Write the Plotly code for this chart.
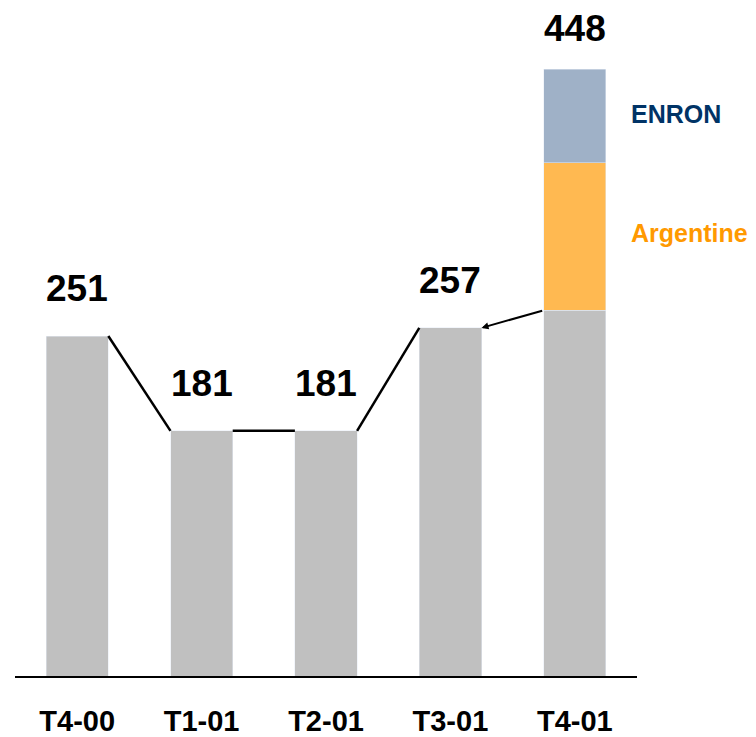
import plotly.graph_objects as go

categories = ["T4-00", "T1-01", "T2-01", "T3-01", "T4-01"]
base_values = [251, 181, 181, 257, 270]
argentine_values = [None, None, None, None, 109]
enron_values = [None, None, None, None, 69]
total_labels = [251, 181, 181, 257, 448]
segment_names = ["Argentine", "ENRON"]

GRAY = "#C0C0C0"
ORANGE = "#FFB951"
BLUEGRAY = "#9FB1C7"
FONT = "Arial, Liberation Sans, sans-serif"

fig = go.Figure()
fig.add_bar(x=categories, y=base_values, marker_color=GRAY, width=0.5, showlegend=False)
fig.add_bar(x=categories, y=argentine_values, marker_color=ORANGE, width=0.5, showlegend=False)
fig.add_bar(x=categories, y=enron_values, marker_color=BLUEGRAY, width=0.5, showlegend=False)

# connector lines between bar tops
n = len(categories)
for i in range(n - 2):
    fig.add_shape(type="line", xref="x", yref="y",
                  x0=i + 0.25, y0=base_values[i], x1=i + 1 - 0.25, y1=base_values[i + 1],
                  line=dict(color="black", width=2.5))
# arrow from last bar base to previous bar
fig.add_annotation(x=n - 2 + 0.25, y=base_values[n - 2], ax=n - 1 - 0.25, ay=base_values[n - 1],
                   xref="x", yref="y", axref="x", ayref="y", text="", showarrow=True,
                   arrowhead=2, arrowsize=0.7, arrowwidth=2, arrowcolor="black")

# total labels
for i, v in enumerate(total_labels):
    fig.add_annotation(x=categories[i], y=v, text=str(v), showarrow=False,
                       yanchor="bottom", yshift=25 if i < n - 1 else 18,
                       font=dict(family=FONT, size=37, color="black", weight="bold"))

# segment labels
arg_mid = base_values[-1] + argentine_values[-1] / 2
enr_mid = base_values[-1] + argentine_values[-1] + enron_values[-1] / 2
fig.add_annotation(x=categories[-1], y=enr_mid, text=segment_names[1], showarrow=False,
                   xanchor="left", xshift=54, yshift=2,
                   font=dict(family=FONT, size=25, color="#003366", weight="bold"))
fig.add_annotation(x=categories[-1], y=arg_mid, text=segment_names[0], showarrow=False,
                   xanchor="left", xshift=54, yshift=3,
                   font=dict(family=FONT, size=25, color="#FF9900", weight="bold"))

fig.update_layout(
    width=756, height=737,
    barmode="stack", bargap=0.5,
    plot_bgcolor="white", paper_bgcolor="white",
    margin=dict(l=7, r=127, t=12, b=69, autoexpand=False),
    showlegend=False,
)
fig.update_xaxes(type="category", range=[-0.5, 4.5], showline=True, linecolor="black", linewidth=2,
                 showgrid=False, zeroline=False, ticks="outside", ticklen=18,
                 tickcolor="rgba(0,0,0,0)", automargin=False,
                 tickfont=dict(family=FONT, size=29, color="black", weight="bold"))
fig.update_yaxes(range=[0, 484.3], visible=False, showgrid=False, zeroline=False, automargin=False)

fig.write_html("out.html")
